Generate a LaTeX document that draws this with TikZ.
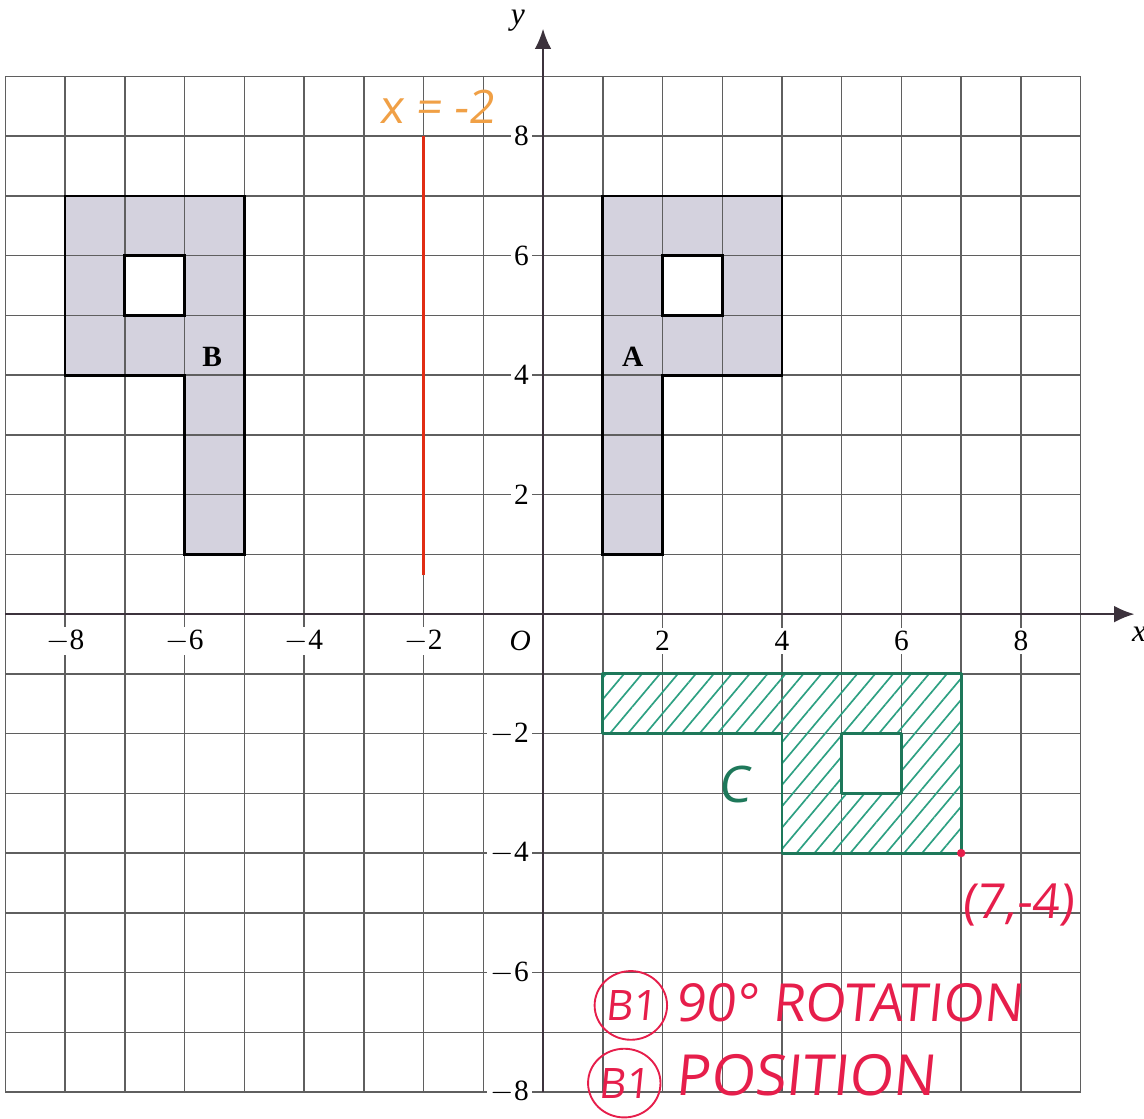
\documentclass[tikz,border=0pt]{standalone}
\usepackage{fontspec}
\setmainfont{Liberation Serif}
\newfontfamily\handfont{Open Sans}[FakeSlant=0.1]
\usetikzlibrary{patterns.meta,arrows.meta,shapes.geometric}

\definecolor{shapegray}{RGB}{212,210,222}
\definecolor{gridcol}{RGB}{95,95,95}
\definecolor{axiscol}{RGB}{60,50,60}
\definecolor{hatchcol}{RGB}{45,160,130}
\definecolor{cline}{RGB}{30,120,90}
\definecolor{mirrorcol}{RGB}{225,45,20}
\definecolor{orangeink}{RGB}{240,160,70}
\definecolor{redink}{RGB}{230,30,75}

\tikzset{
  gridline/.style={draw=gridcol,line width=0.7pt},
  outline/.style={draw=black,line width=1.3pt,line join=miter},
  axisline/.style={draw=axiscol,line width=1pt,-{Latex[length=3.4mm,width=2.8mm]}},
  ticklab/.style={fill=white,inner sep=1.5pt,font=\fontsize{14}{16}\selectfont},
  shapelab/.style={font=\bfseries\fontsize{14}{16}\selectfont},
  ink/.style={text=redink,font=\handfont\fontsize{26}{28}\selectfont},
  ringed/.style={ellipse,draw=redink,line width=0.9pt,inner sep=0pt,
    minimum width=0.95cm,minimum height=1.15cm,text=redink,
    font=\handfont\fontsize{20}{22}\selectfont},
}

\begin{document}
\begin{tikzpicture}[>=latex,line join=bevel,]
\useasboundingbox (-9.09,-8.44) rectangle (10.06,10.28);
%% shaded shapes A and B
\fill[shapegray,even odd rule] (1,1) -- (2,1) -- (2,4) -- (4,4) -- (4,7) -- (1,7) -- cycle
  (2,5) rectangle (3,6);
\fill[shapegray,even odd rule] (-5,1) -- (-6,1) -- (-6,4) -- (-8,4) -- (-8,7) -- (-5,7) -- cycle
  (-6,5) rectangle (-7,6);
%% grid
\draw[gridline] (-9,-8) grid (9,9);
%% shape C, hatched
\path[pattern={Lines[angle=50,distance=2.3mm,line width=0.8pt]},pattern color=hatchcol,even odd rule]
  (1,-1) -- (7,-1) -- (7,-4) -- (4,-4) -- (4,-2) -- (1,-2) -- cycle (5,-2) rectangle (6,-3);
\draw[draw=cline,line width=1.4pt] (1,-1) -- (7,-1) -- (7,-4) -- (4,-4) -- (4,-2) -- (1,-2) -- cycle
  (5,-2) rectangle (6,-3);
%% outlines
\draw[outline] (1,1) -- (2,1) -- (2,4) -- (4,4) -- (4,7) -- (1,7) -- cycle (2,5) rectangle (3,6);
\draw[outline] (-5,1) -- (-6,1) -- (-6,4) -- (-8,4) -- (-8,7) -- (-5,7) -- cycle (-6,5) rectangle (-7,6);
%% axes
\coordinate (xstart) at (-9,0);
\coordinate (xend) at (9.9,0);
\coordinate (ystart) at (0,-8);
\coordinate (yend) at (0,9.8);
\draw[axisline] (xstart) -- (xend);
\draw[axisline] (ystart) -- (yend);
\node (xname) at (9.98,-0.33) [font=\itshape\fontsize{15}{16}\selectfont] {x};
\node (yname) at (-0.42,9.93) [font=\itshape\fontsize{15}{16}\selectfont] {y};
\node (orig) at (-0.38,-0.45) [ticklab,font=\itshape\fontsize{14}{16}\selectfont] {O};
%% x ticks
\node (xm8) at (-8,-0.45) [ticklab] {$-$8};
\node (xm6) at (-6,-0.45) [ticklab] {$-$6};
\node (xm4) at (-4,-0.45) [ticklab] {$-$4};
\node (xm2) at (-2,-0.45) [ticklab] {$-$2};
\node (xp2) at (2,-0.45) [ticklab] {2};
\node (xp4) at (4,-0.45) [ticklab] {4};
\node (xp6) at (6,-0.45) [ticklab] {6};
\node (xp8) at (8,-0.45) [ticklab] {8};
%% y ticks
\node (yp8) at (-0.18,8) [ticklab,anchor=east] {8};
\node (yp6) at (-0.18,6) [ticklab,anchor=east] {6};
\node (yp4) at (-0.18,4) [ticklab,anchor=east] {4};
\node (yp2) at (-0.18,2) [ticklab,anchor=east] {2};
\node (ym2) at (-0.18,-2) [ticklab,anchor=east] {$-$2};
\node (ym4) at (-0.18,-4) [ticklab,anchor=east] {$-$4};
\node (ym6) at (-0.18,-6) [ticklab,anchor=east] {$-$6};
\node (ym8) at (-0.18,-8) [ticklab,anchor=east] {$-$8};
%% shape names
\node (labA) at (1.5,4.3) [shapelab] {A};
\node (labB) at (-5.54,4.3) [shapelab] {B};
\node (labC) at (3.21,-2.86) [text=cline,font=\handfont\fontsize{24}{26}\selectfont] {C};
%% mirror line
\coordinate (mirbot) at (-2,0.65);
\coordinate (mirtop) at (-2,8);
\draw[draw=mirrorcol,line width=1.2pt] (mirbot) -- (mirtop);
\node (mirlab) at (-1.77,8.49) [text=orangeink,font=\handfont\fontsize{22}{24}\selectfont] {x = -2};
%% marking
\coordinate (corner) at (7,-4);
\fill[redink] (corner) circle (0.07);
\node (cornerlab) at (7.95,-4.87) [ink,font=\handfont\fontsize{23}{26}\selectfont] {(7,-4)};
\node (mark1) at (1.47,-6.55) [ringed] {B1};
\node (rot) at (2.1,-6.5) [ink,anchor=west,font=\handfont\fontsize{25}{28}\selectfont] {90° ROTATION};
\node (mark2) at (1.36,-7.85) [ringed] {B1};
\node (pos) at (2.1,-7.72) [ink,anchor=west,font=\handfont\fontsize{27}{30}\selectfont] {POSITION};
%
\end{tikzpicture}
\end{document}
